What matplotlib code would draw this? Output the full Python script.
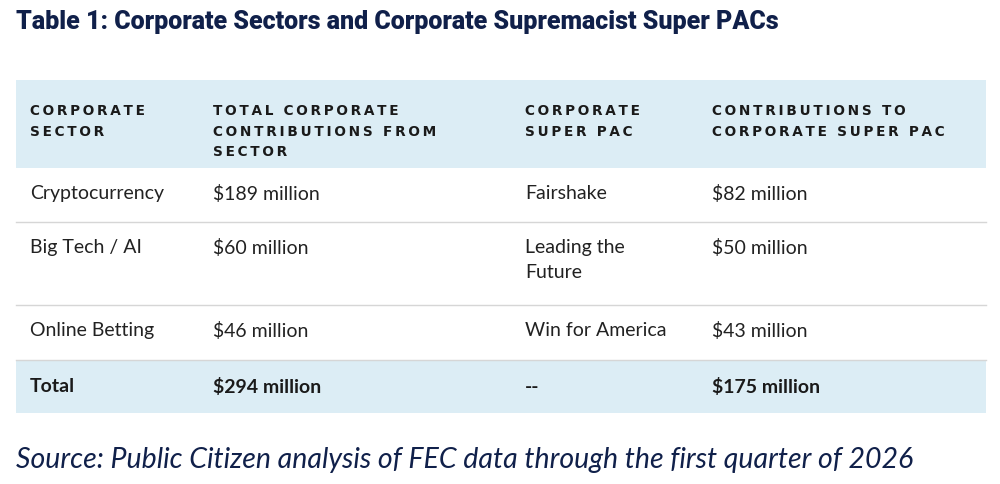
import matplotlib
matplotlib.use("Agg")
import matplotlib.pyplot as plt

title = "Table 1: Corporate Sectors and Corporate Supremacist Super PACs"
headers = ["CORPORATE\nSECTOR", "TOTAL CORPORATE\nCONTRIBUTIONS FROM\nSECTOR", "CORPORATE\nSUPER PAC", "CONTRIBUTIONS TO\nCORPORATE SUPER PAC"]
sectors = ["Cryptocurrency", "Big Tech / AI", "Online Betting"]
sector_totals = ["$189 million", "$60 million", "$46 million"]
super_pacs = ["Fairshake", "Leading the\nFuture", "Win for America"]
pac_totals = ["$82 million", "$50 million", "$43 million"]
total_row = ["Total", "$294 million", "--", "$175 million"]
source = "Source: Public Citizen analysis of FEC data through the first quarter of 2026"

fig = plt.figure(figsize=(10, 4.84), dpi=100)
ax = fig.add_axes([0, 0, 1, 1])
ax.set_xlim(0, 1000); ax.set_ylim(484, 0); ax.axis("off")

navy = "#10204a"; txt = "#222222"; band = "#dcedf5"; line = "#d6d6d6"
colx = [30, 213, 525, 712]
L, R = 16, 986

ax.text(16, 22, title, fontsize=18, fontweight="heavy", color=navy, va="center",
        family="Roboto")

ax.add_patch(plt.Rectangle((L, 80), R - L, 88, color=band, lw=0))
def spaced(s):
    return "\n".join("\u2009".join(list(w)) for w in s.split("\n"))
for x, h in zip(colx, headers):
    ax.text(x, 104, spaced(h), fontsize=9.8, fontweight="semibold", color="#1a1a1a",
            va="top", linespacing=1.6, family="DejaVu Sans")

rows_y = [(168, 222), (222, 305), (305, 360)]
for i, (y0, y1) in enumerate(rows_y):
    vals = [sectors[i], sector_totals[i], super_pacs[i], pac_totals[i]]
    for x, v in zip(colx, vals):
        ax.text(x, y0 + 17, v, fontsize=14, color=txt, va="top", linespacing=1.55, family="Lato")
    ax.plot([L, R], [y1, y1], color=line, lw=1)

ax.add_patch(plt.Rectangle((L, 360), R - L, 53, color=band, lw=0))
for x, v in zip(colx, total_row):
    ax.text(x, 387, v, fontsize=14, fontweight="bold", color="#1a1a1a", va="center", family="Lato")

ax.text(16, 460, source, fontsize=20.5, style="italic", color=navy, va="center", family="Lato")

fig.savefig("out.png", dpi=100)
